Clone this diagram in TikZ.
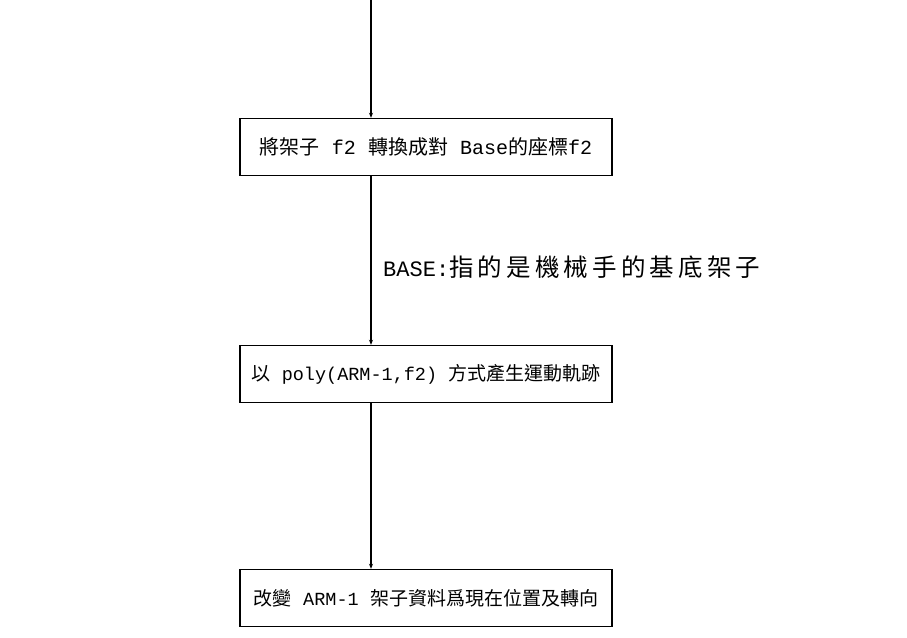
\documentclass[tikz,border=0pt]{standalone}
\usepackage{fontspec}
\setmainfont{Liberation Mono}
\newfontfamily\cjk{Noto Sans CJK TC}
\newfontfamily\mono{Liberation Mono}
\newfontfamily\cjkwide[LetterSpace=17]{Noto Sans CJK TC}
\usetikzlibrary{arrows.meta}
\tikzset{
  stepbox/.style={draw=black, line width=1.4pt, minimum width=372pt, minimum height=57pt, inner sep=0pt, font=\fontsize{20}{24}\selectfont},
  flow/.style={draw=black, line width=1.1pt, -{Stealth[length=5pt,width=4pt]}},
  note/.style={anchor=west, inner sep=0pt, font=\fontsize{22}{26}\selectfont}
}
\begin{document}
\begin{tikzpicture}[x=1pt,y=-1pt]
\useasboundingbox (0,0) rectangle (907,637);
\coordinate (top) at (371,0);
\node[stepbox] (b1) at (426,147) {{\cjk 將架子} {\mono f2} {\cjk 轉換成對} {\mono Base}{\cjk 的座標}{\mono f2}};
\node[stepbox, font=\fontsize{19}{23}\selectfont] (b2) at (426,374) {{\cjk 以} {\mono\fontsize{18.5}{22}\selectfont poly(ARM-1,f2)} {\cjk 方式產生運動軌跡}};
\node[stepbox, font=\fontsize{19}{23}\selectfont] (b3) at (426,598) {{\cjk 改變} {\mono\fontsize{18.5}{22}\selectfont ARM-1} {\cjk 架子資料爲現在位置及轉向}};
\node[note] (n1) at (383,267) {{\mono BASE:}{\cjkwide\fontsize{24.5}{28}\selectfont 指的是機械手的基底架子}};
\draw[flow] (top) -- (top |- b1.north);
\draw[flow] (b1.south -| top) -- (b2.north -| top);
\draw[flow] (b2.south -| top) -- (b3.north -| top);
\end{tikzpicture}
\end{document}
